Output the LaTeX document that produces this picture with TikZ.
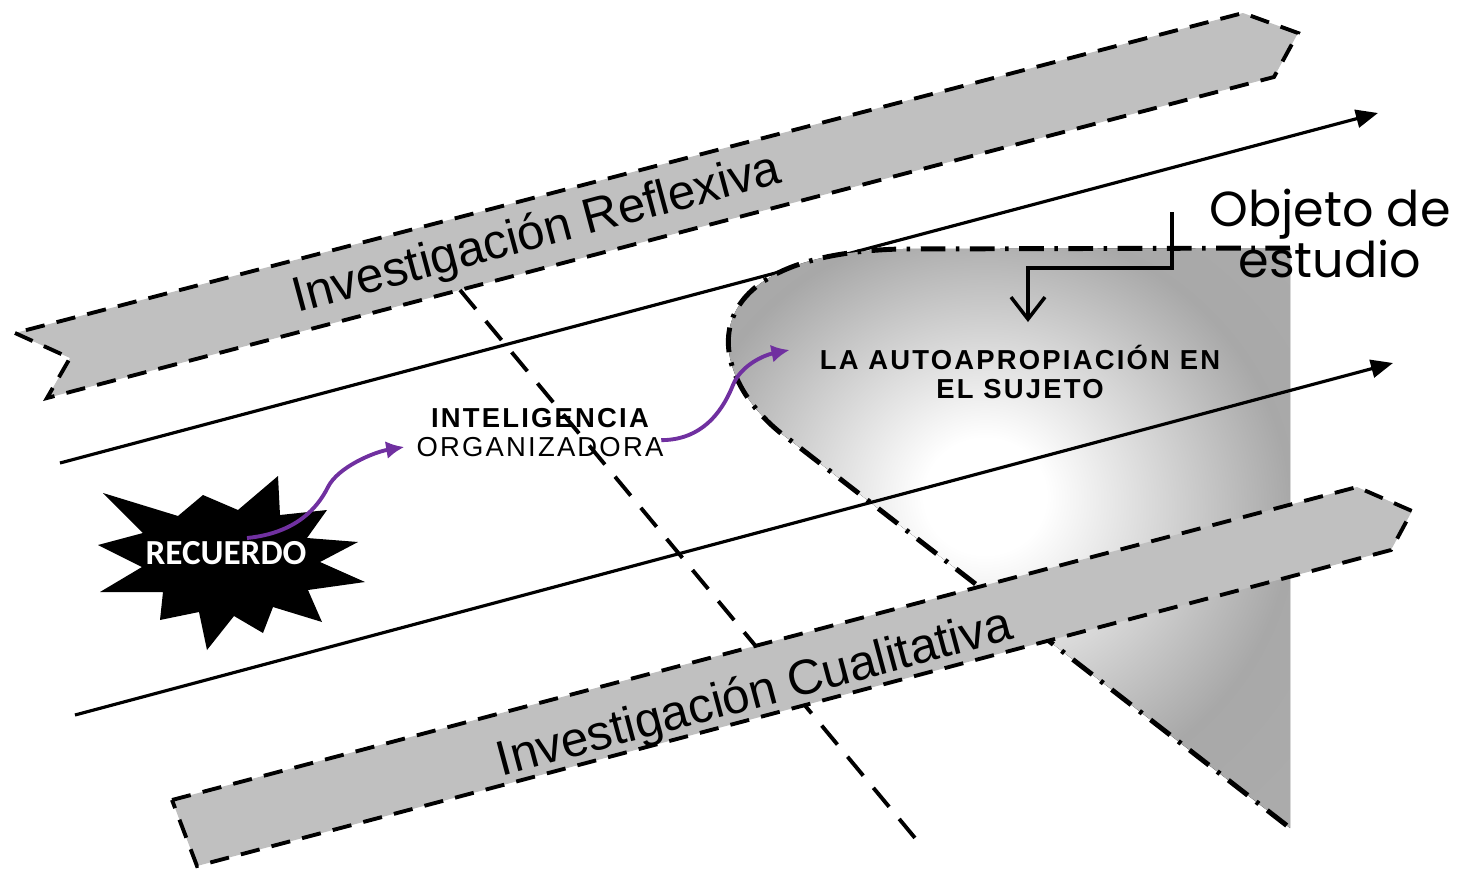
\documentclass[tikz,border=0pt]{standalone}
\usepackage{fontspec}
\setmainfont{Liberation Sans}
\newfontfamily\objfont{Poppins}
\newfontfamily\starfont{Carlito}
\newfontfamily\capsfont{Liberation Sans}[LetterSpace=8]
\usetikzlibrary{calc,arrows.meta}
\definecolor{bannergray}{HTML}{C0C0C0}
\definecolor{arrowpurple}{HTML}{7030A0}
\pgfdeclareradialshading{conelight}{\pgfpoint{0bp}{4bp}}{color(0bp)=(white); color(5bp)=(white); color(25bp)=(gray!68); color(50bp)=(gray!62)}

\begin{document}
\begin{tikzpicture}[x=0.01cm,y=-0.01cm,
  banner/.style={fill=bannergray, draw=black, line width=1.1pt, dash pattern=on 5.5pt off 3.5pt},
  axisline/.style={line width=0.9pt, -{Triangle[length=2.2mm,width=1.8mm]}},
  bannertext/.style={rotate=15, font=\fontsize{14}{16}\selectfont},
  purplearrow/.style={draw=arrowpurple, line width=1.1pt, -{Latex[length=1.8mm,width=1.8mm]}}]
\useasboundingbox (0,0) rectangle (1459,869);
% banda superior
\filldraw[banner] (15,333) -- (70,358) -- (47,398) -- (1274,77) -- (1298,33) -- (1243,13) -- cycle;
\node[bannertext] (reflexiva) at (537,235) {Investigación Reflexiva};
% eje superior y corte
\coordinate (e1s) at (60,463);
\coordinate (e1e) at (1378,113);
\draw[axisline] (e1s) -- (e1e);
\coordinate (cut1) at (460,290);
\coordinate (cut2) at (925,850);
\draw[line width=1.1pt, dash pattern=on 7pt off 4.5pt] (cut1) -- (cut2);
% cono
\fill[shading=conelight] (1290,248) -- (900,249) .. controls (680,255) and (705,380) .. (790,440) -- (1290,828) -- cycle;
\draw[line width=1.4pt, dash pattern=on 7pt off 3pt on 1pt off 3pt] (1290,248) -- (900,249) .. controls (680,255) and (705,380) .. (790,440) -- (1290,828);
% eje inferior
\coordinate (e2s) at (75,715);
\coordinate (e2e) at (1393,363);
\draw[axisline] (e2s) -- (e2e);
% banda inferior
\filldraw[banner] (172,800) -- (1357,487) -- (1412,511) -- (1391,550) -- (197,866) -- cycle;
\node[bannertext] (cualitativa) at (755,695) {Investigación Cualitativa};
% estrella
\fill[black] (98,545) -- (143,533) -- (103,493) -- (178,516) -- (203,495) -- (238,510) -- (278,476) -- (280,515) -- (327,510) -- (307,538) -- (358,542) -- (320,562) -- (365,582) -- (308,590) -- (322,622) -- (273,607) -- (263,633) -- (234,616) -- (207,650) -- (199,612) -- (160,620) -- (163,592) -- (100,592) -- (142,567) -- cycle;
\node[text=white, font=\starfont\bfseries\fontsize{10}{12}\selectfont] (recuerdo) at (226,553) {RECUERDO};
% textos
\node[font=\capsfont\bfseries\fontsize{7.8}{9}\selectfont] (intel1) at (540,418) {INTELIGENCIA};
\node[font=\capsfont\fontsize{7.8}{9}\selectfont] (intel2) at (540,447) {ORGANIZADORA};
\node[font=\capsfont\bfseries\fontsize{7.8}{8}\selectfont, align=center] (auto1) at (1020,372) {LA AUTOAPROPIACIÓN EN\\EL SUJETO};
\node[font=\objfont\fontsize{14}{14.5}\selectfont, align=center] (objeto) at (1330,233) {Objeto de\\estudio};
% flechas moradas
\coordinate (recA) at ($(recuerdo)+(21,-15)$);
\draw[purplearrow] (recA) .. controls +(50,-5) and +(-10,20) .. (328,487) .. controls +(10,-20) and +(-30,5) .. (intel2.west);
\draw[purplearrow] (intel1.south east) .. controls +(45,0) and +(-8,20) .. (733,385) .. controls +(8,-20) and +(-25,5) .. ($(auto1.west)+(-18,-22)$);
% objeto de estudio
\coordinate (objtop) at (1172,212);
\draw[line width=1pt, -{Straight Barb[length=2.2mm,width=3.4mm]}] (objtop) -- ++(0,56) -| (1028,322);
\end{tikzpicture}
\end{document}
